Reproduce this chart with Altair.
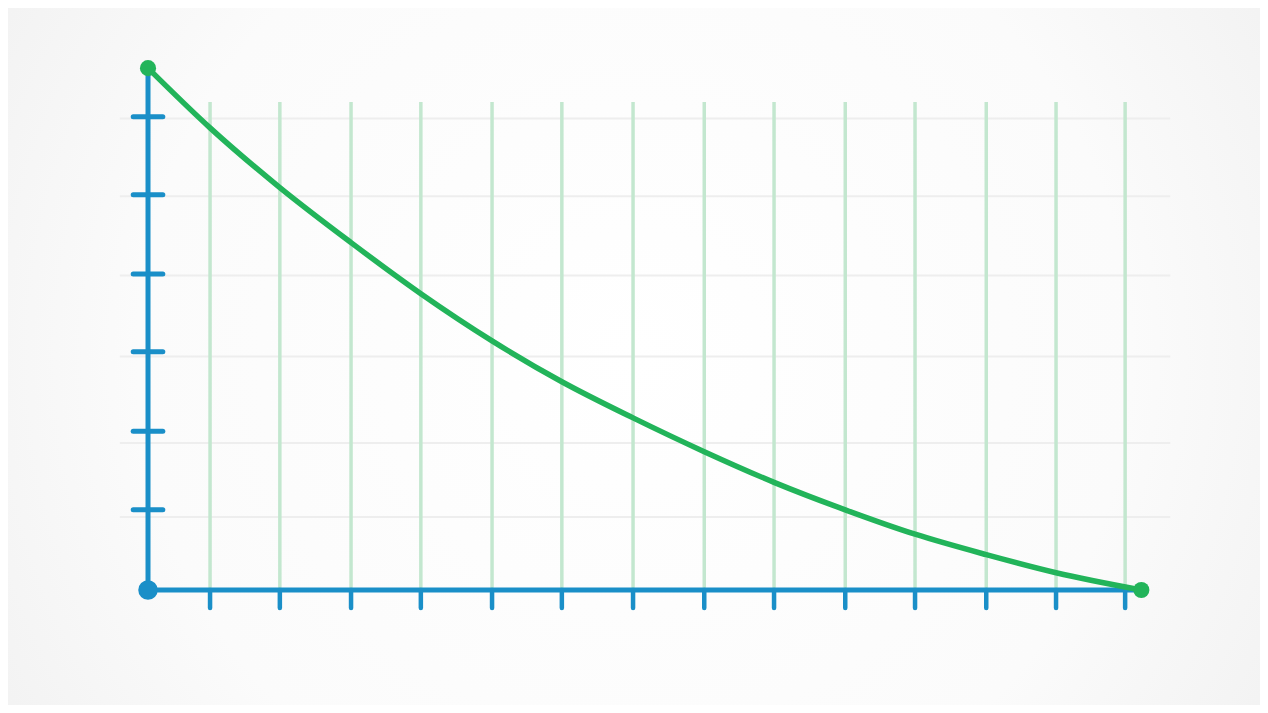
import altair as alt
import pandas as pd

# ---- data (units: x 1 = 70.5px, y 1 = 78.6px) ----
curve_x = [0.0, 0.88, 1.87, 2.88, 3.87, 4.88, 5.87, 6.88, 7.89, 8.88, 9.89, 10.88, 11.89, 12.88, 14.09]
curve_y = [6.64, 5.88, 5.12, 4.42, 3.77, 3.17, 2.65, 2.19, 1.76, 1.37, 1.02, 0.71, 0.45, 0.22, 0.0]
grid_x = [0.88, 1.87, 2.88, 3.87, 4.88, 5.87, 6.88, 7.89, 8.88, 9.89, 10.88, 11.89, 12.88, 13.86]
tick_y = [1.02, 2.02, 3.03, 4.02, 5.03, 6.02]
grid_y = [0.93, 1.87, 2.97, 4.00, 5.01, 6.00]

X_MIN, X_MAX = -1.986, 15.773
Y_MIN, Y_MAX = -1.463, 7.405
W, H = 1252, 697

BLUE = "#1a8fc8"
GREEN = "#22b45a"
GRID_G = "#c3e7cf"
GRID_H = "#eeeeee"

xs = alt.Scale(domain=[X_MIN, X_MAX], nice=False, zero=False)
ys = alt.Scale(domain=[Y_MIN, Y_MAX], nice=False, zero=False)
noax = None

curve = pd.DataFrame({"x": curve_x, "y": curve_y})
gx = pd.DataFrame({"x": grid_x, "y0": 0.0, "y1": 6.21, "t0": 0.0, "t1": -0.23})
ty = pd.DataFrame({"y": tick_y, "x0": -0.21, "x1": 0.21})
gy = pd.DataFrame({"y": grid_y, "x0": -0.4, "x1": 14.5})

bg = alt.Chart(pd.DataFrame({"a": [0]})).mark_rect(
    color=alt.Gradient(
        gradient="radial", x1=0.5, y1=0.5, x2=0.5, y2=0.5, r1=0.0, r2=0.72,
        stops=[alt.GradientStop(offset=0, color="#ffffff"),
               alt.GradientStop(offset=0.55, color="#fbfbfb"),
               alt.GradientStop(offset=1, color="#ececec")])
).encode(x=alt.value(0), x2=alt.value(W), y=alt.value(0), y2=alt.value(H))

hgrid = alt.Chart(gy).mark_rule(color=GRID_H, strokeWidth=2).encode(
    x=alt.X("x0:Q", scale=xs, axis=noax), x2="x1:Q",
    y=alt.Y("y:Q", scale=ys, axis=noax))

vgrid = alt.Chart(gx).mark_rule(color=GRID_G, strokeWidth=3.5).encode(
    x=alt.X("x:Q", scale=xs, axis=noax),
    y=alt.Y("y0:Q", scale=ys, axis=noax), y2="y1:Q")

xticks = alt.Chart(gx).mark_rule(color=BLUE, strokeWidth=4.5, strokeCap="round").encode(
    x=alt.X("x:Q", scale=xs, axis=noax),
    y=alt.Y("t0:Q", scale=ys, axis=noax), y2="t1:Q")

yticks = alt.Chart(ty).mark_rule(color=BLUE, strokeWidth=5, strokeCap="round").encode(
    x=alt.X("x0:Q", scale=xs, axis=noax), x2="x1:Q",
    y=alt.Y("y:Q", scale=ys, axis=noax))

axes_df = pd.DataFrame({"x0": [0.0, 0.0], "x1": [0.0, 14.09], "y0": [0.0, 0.0], "y1": [6.64, 0.0]})
axes = alt.Chart(axes_df).mark_rule(color=BLUE, strokeWidth=5).encode(
    x=alt.X("x0:Q", scale=xs, axis=noax), x2="x1:Q",
    y=alt.Y("y0:Q", scale=ys, axis=noax), y2="y1:Q")

line = alt.Chart(curve).mark_line(color=GREEN, strokeWidth=5.5, interpolate="monotone",
                                  strokeCap="round").encode(
    x=alt.X("x:Q", scale=xs, axis=noax),
    y=alt.Y("y:Q", scale=ys, axis=noax))

ends = pd.DataFrame({"x": [curve_x[0], curve_x[-1]], "y": [curve_y[0], curve_y[-1]]})
gdots = alt.Chart(ends).mark_circle(color=GREEN, opacity=1, size=260).encode(
    x=alt.X("x:Q", scale=xs, axis=noax),
    y=alt.Y("y:Q", scale=ys, axis=noax))

origin = alt.Chart(pd.DataFrame({"x": [0.0], "y": [0.0]})).mark_circle(
    color=BLUE, opacity=1, size=380).encode(
    x=alt.X("x:Q", scale=xs, axis=noax),
    y=alt.Y("y:Q", scale=ys, axis=noax))

chart = alt.layer(bg, hgrid, vgrid, xticks, yticks, axes, line, gdots, origin).properties(
    width=W, height=H, padding=0, autosize=alt.AutoSizeParams(type="none"),
    background="#eeeeee"
).configure_view(stroke=None, clip=False)

chart.save("out.html", embed_options={"renderer": "svg", "actions": False})
